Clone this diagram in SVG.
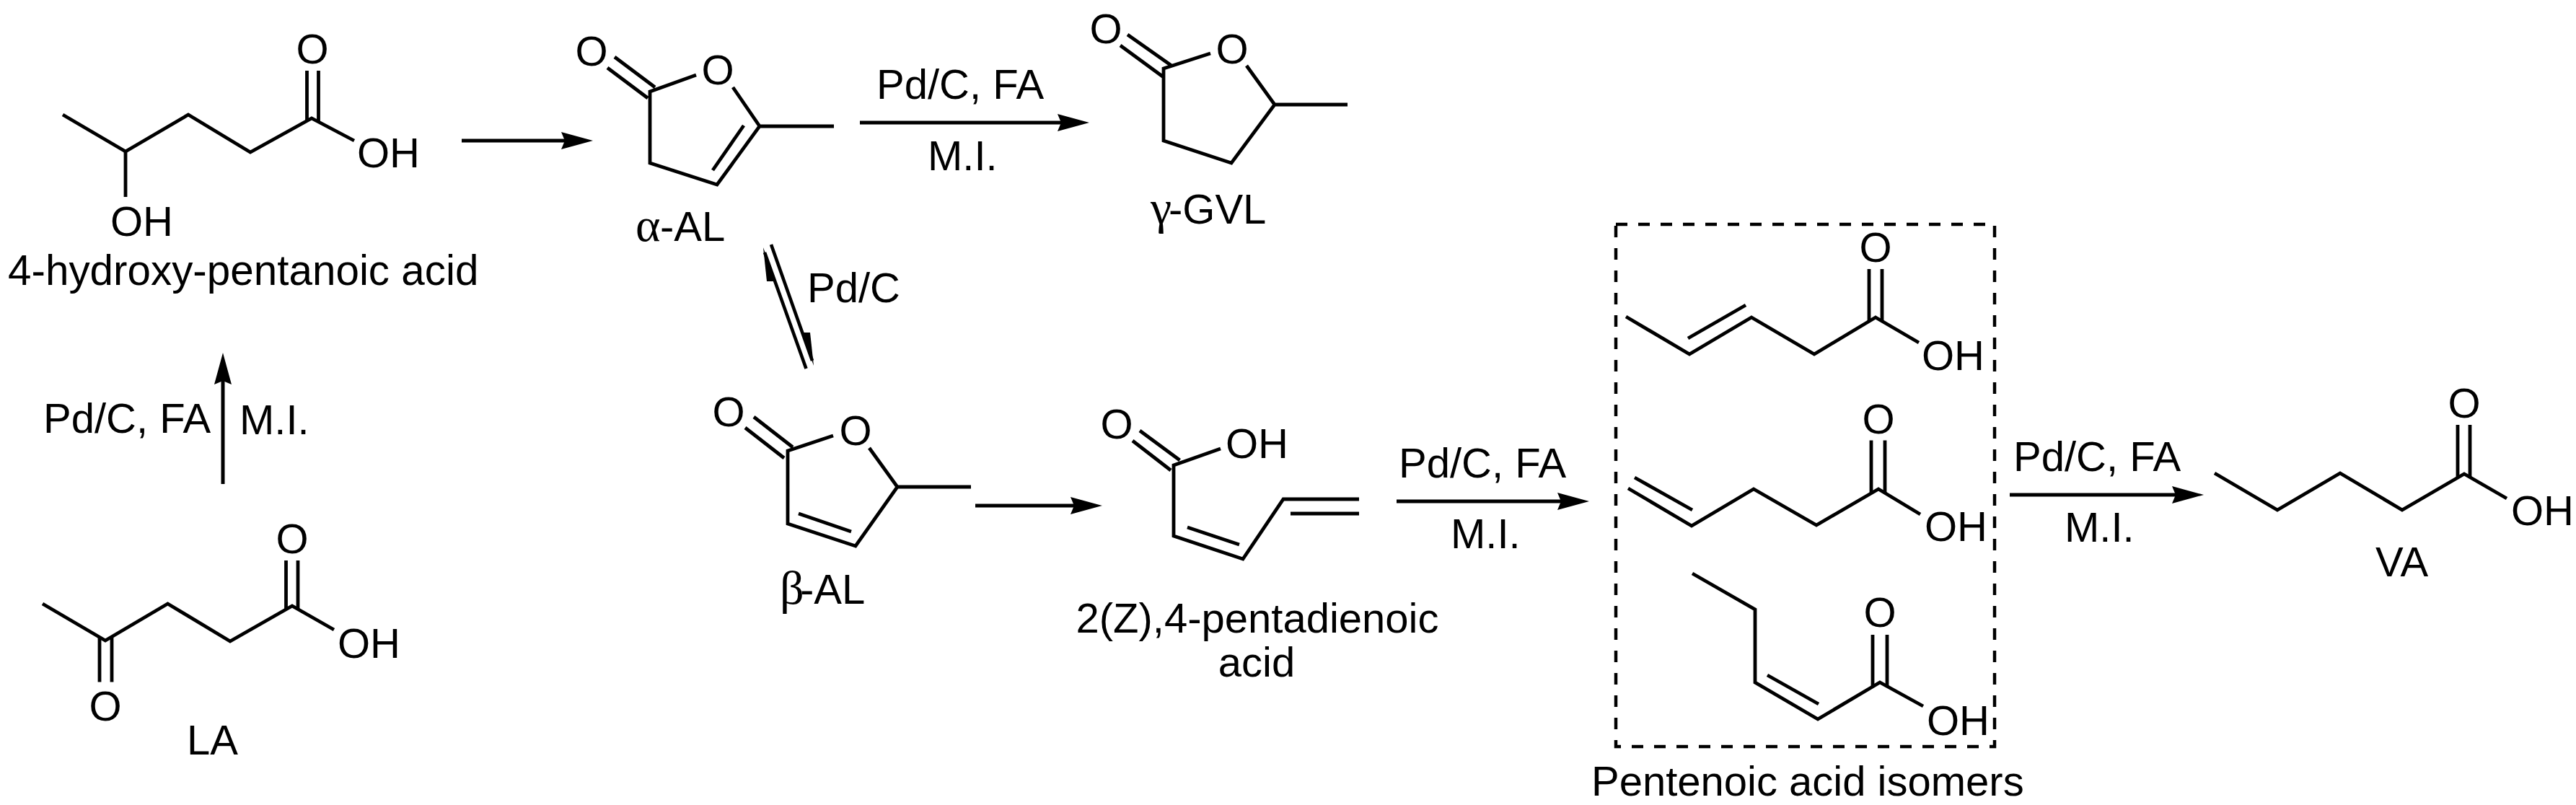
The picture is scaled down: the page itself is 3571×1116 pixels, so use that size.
<svg xmlns="http://www.w3.org/2000/svg" width="3571" height="1116" viewBox="0 0 3571 1116">
<style>
text{font-family:"Liberation Sans",Arial,sans-serif;font-size:58px;fill:#000}
.m{text-anchor:middle}
.g{font-family:"Liberation Serif","Times New Roman",serif;font-size:66px}
.b{fill:none;stroke:#000;stroke-width:4.8;stroke-linejoin:miter;stroke-linecap:butt}
.a{fill:none;stroke:#000;stroke-width:5}
.e{fill:none;stroke:#000;stroke-width:4.6}
.h{fill:#000}
.box{fill:none;stroke:#000;stroke-width:4.5;stroke-dasharray:16 15}
</style>
<defs>
<marker id="ah" markerUnits="userSpaceOnUse" markerWidth="44" markerHeight="24" viewBox="0 0 44 24" refX="5" refY="12" orient="auto" overflow="visible"><path d="M44,12 L0,0 L5,12 L0,24 Z" fill="#000"/></marker>
</defs>
<g id="connectors">
<line class="a" x1="640" y1="195" x2="783" y2="195" marker-end="url(#ah)"/>
<line class="a" x1="309" y1="671" x2="309" y2="528" marker-end="url(#ah)"/>
<line class="a" x1="1192" y1="170" x2="1471" y2="170" marker-end="url(#ah)"/>
<line class="a" x1="1352" y1="701" x2="1489" y2="701" marker-end="url(#ah)"/>
<line class="a" x1="1936" y1="695" x2="2164" y2="695" marker-end="url(#ah)"/>
<line class="a" x1="2786" y1="686" x2="3016" y2="686" marker-end="url(#ah)"/>
<g id="equilibrium">
<line class="e" x1="1117.500" y1="511" x2="1060" y2="350"/>
<line class="e" x1="1069" y1="339" x2="1126" y2="500"/>
<polygon class="h" points="1058,343 1063,390 1075.500,390"/>
<polygon class="h" points="1128,507 1123,461 1111,461"/>
</g>
</g>
<g id="box"><rect class="box" x="2240" y="311" width="525" height="724"/></g>
<g id="m-hpa">
<polyline class="b" points="87,159 174,210 261,159 347,211 432,164 491,195"/>
<path class="b" d="M425.500,98V168M441.500,98V168M174,210V273"/>
<text class="m" x="433" y="88">O</text>
<text x="495" y="232">OH</text>
<text x="153" y="327">OH</text>
<text x="11" y="395" style="font-size:58.400px">4-hydroxy-pentanoic acid</text>
</g>
<g id="m-la">
<polyline class="b" points="59,837 146,888 232.500,837 319,889 405,840 463,873"/>
<path class="b" d="M396.500,777V844M413,777V844M138,884V945.500M155,884V945.500"/>
<text class="m" x="405" y="767">O</text>
<text x="468" y="912">OH</text>
<text class="m" x="146" y="999">O</text>
<text x="259" y="1046">LA</text>
</g>
<g id="m-aal">
<path class="b" d="M852,79L908,121M842,94L898,136M965,104L901,127V226L994,256L1053,175L1016,121M1053,175H1156M1031,174L988,236"/>
<text class="m" x="995" y="117">O</text>
<text class="m" x="820" y="91">O</text>
<text x="881" y="334"><tspan class="g">α</tspan><tspan x="915">-AL</tspan></text>
</g>
<g id="m-gvl">
<path class="b" d="M1563,48L1624,91M1553,63L1613,107M1678,74L1613,95V195L1707,226L1767,145L1728,91M1767,145H1868"/>
<text class="m" x="1533" y="60">O</text>
<text class="m" x="1708" y="88">O</text>
<text x="1595" y="310"><tspan class="g">γ</tspan><tspan x="1620">-GVL</tspan></text>
</g>
<g id="m-bal">
<path class="b" d="M1045,578L1099,620M1033,593L1087,635M1155,604L1092,625V726L1186,757L1244,675L1205,621M1244,675H1346M1107,712L1180,737"/>
<text class="m" x="1010" y="591">O</text>
<text class="m" x="1186" y="617">O</text>
<text x="1081" y="837"><tspan class="g">β</tspan><tspan x="1109">-AL</tspan></text>
</g>
<g id="m-pda">
<path class="b" d="M1580,597L1635.500,638M1570,611L1623,652M1692,622L1627,645V743L1723,775L1779,692H1884M1646,731L1718,755M1789,712H1884"/>
<text class="m" x="1548" y="608">O</text>
<text x="1699" y="635">OH</text>
<text class="m" x="1743" y="877">2(Z),4-pentadienoic</text>
<text class="m" x="1742" y="938">acid</text>
</g>
<g id="m-iso1">
<polyline class="b" points="2254,439 2342,491 2428,440 2515,491 2600,440 2660,475"/>
<path class="b" d="M2340,469L2420,423M2591,373V445M2609,373V445"/>
<text class="m" x="2600" y="363">O</text>
<text x="2664" y="513">OH</text>
</g>
<g id="m-iso2">
<polyline class="b" points="2257,677 2345,729 2431,678 2518,728 2604,678 2662,713"/>
<path class="b" d="M2266,662L2346,707M2594,610.500V683M2613,610.500V683"/>
<text class="m" x="2604" y="601">O</text>
<text x="2668" y="750">OH</text>
</g>
<g id="m-iso3">
<polyline class="b" points="2346,795 2433,845 2433,946 2520,997 2606,946 2666,979"/>
<path class="b" d="M2450,936L2521,976M2596,880V951M2616,880V951"/>
<text class="m" x="2606" y="869">O</text>
<text x="2671" y="1019">OH</text>
<text x="2206" y="1103">Pentenoic acid isomers</text>
</g>
<g id="m-va">
<polyline class="b" points="3070,656 3157,707 3244,656 3330,707 3416,657 3475,691"/>
<path class="b" d="M3407,589V662M3424,589V662"/>
<text class="m" x="3416" y="579">O</text>
<text x="3481" y="728">OH</text>
<text x="3293" y="799">VA</text>
</g>
<g id="reagents">
<text x="60" y="600">Pd/C, FA</text>
<text x="332" y="602">M.I.</text>
<text x="1215" y="137">Pd/C, FA</text>
<text x="1286" y="236">M.I.</text>
<text x="1119" y="419">Pd/C</text>
<text x="1939" y="662">Pd/C, FA</text>
<text x="2011" y="760">M.I.</text>
<text x="2791" y="653">Pd/C, FA</text>
<text x="2862" y="751">M.I.</text>
</g>
</svg>
